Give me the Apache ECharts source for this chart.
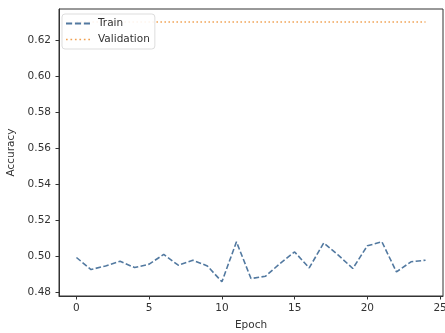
<!DOCTYPE html>
<html>
<head>
<meta charset="utf-8">
<script src="https://cdn.jsdelivr.net/npm/echarts@6/dist/echarts.min.js"></script>
<style>
  html, body { margin: 0; padding: 0; background: #fff; }
  #chart { width: 445px; height: 333px; }
</style>
</head>
<body>
<div id="chart"></div>
<script>
// Training history: accuracy per epoch
const epochs = [0,1,2,3,4,5,6,7,8,9,10,11,12,13,14,15,16,17,18,19,20,21,22,23,24];
const trainAcc = [0.4991,0.4924,0.4944,0.4970,0.4935,0.4954,0.5008,0.4948,0.4976,0.4944,
                  0.4856,0.5078,0.4874,0.4887,0.4958,0.5022,0.4933,0.5072,0.5004,0.4930,
                  0.5056,0.5078,0.4911,0.4967,0.4976];
const valAcc = [0.63,0.63,0.63,0.63,0.63,0.63,0.63,0.63,0.63,0.63,
                0.63,0.63,0.63,0.63,0.63,0.63,0.63,0.63,0.63,0.63,
                0.63,0.63,0.63,0.63,0.63];
const xTicks = [0,5,10,15,20,25];
const yTicks = [0.48,0.50,0.52,0.54,0.56,0.58,0.60,0.62];

const font = 'DejaVu Sans';
const textColor = '#333';
const trainColor = '#5279a0';
const valColor = '#f0a050';

// legend glyphs: three dashes and a row of dots
const dashIcon = 'path://M0,0h5.5v1.6h-5.5z M8,0h5.5v1.6h-5.5z M16,0h5.5v1.6h-5.5z';
let dots = '';
for (let i = 0; i < 6; i++) dots += `M${i * 4},0h1.5v1.5h-1.5z `;
const dotIcon = 'path://' + dots.trim();

const chart = echarts.init(document.getElementById('chart'));
chart.setOption({
  animation: false,
  backgroundColor: '#fff',
  grid: {
    left: 59, right: 2, top: 9, bottom: 37,
    containLabel: false, outerBoundsMode: 'none',
    show: true, borderColor: '#333', borderWidth: 1
  },
  legend: {
    orient: 'vertical', left: 62, top: 14,
    backgroundColor: 'rgba(255,255,255,0.9)', borderColor: '#ddd', borderWidth: 1, borderRadius: 3,
    padding: [4, 5, 4, 4], itemWidth: 24, itemHeight: 2, itemGap: 5,
    textStyle: { fontFamily: font, fontSize: 10.5, color: textColor, padding: [0, 0, 0, 3] },
    data: [
      { name: 'Train', icon: dashIcon, itemStyle: { color: trainColor } },
      { name: 'Validation', icon: dotIcon, itemStyle: { color: valColor } }
    ]
  },
  xAxis: {
    type: 'value', min: -1.2, max: 25.2,
    name: 'Epoch', nameLocation: 'middle', nameGap: 24,
    nameTextStyle: { fontFamily: font, fontSize: 10.5, color: textColor },
    axisLine: { show: true, onZero: false, lineStyle: { color: '#333' } },
    axisTick: { show: true, length: 3.5, lineStyle: { color: '#333' }, customValues: xTicks },
    axisLabel: { fontFamily: font, fontSize: 10.5, color: textColor, margin: 7, customValues: xTicks },
    splitLine: { show: false }
  },
  yAxis: {
    type: 'value', min: 0.4777, max: 0.6372,
    name: 'Accuracy', nameLocation: 'middle', nameGap: 36,
    nameTextStyle: { fontFamily: font, fontSize: 10.5, color: textColor },
    axisLine: { show: true, onZero: false, lineStyle: { color: '#333' } },
    axisTick: { show: true, length: 3.5, lineStyle: { color: '#333' }, customValues: yTicks },
    axisLabel: { fontFamily: font, fontSize: 10.5, color: textColor, margin: 8,
                 customValues: yTicks, formatter: v => v.toFixed(2) },
    splitLine: { show: false }
  },
  series: [
    {
      name: 'Train', type: 'line', symbol: 'none', z: 3,
      data: epochs.map((e, i) => [e, trainAcc[i]]),
      lineStyle: { color: trainColor, width: 1.6, type: [5.5, 2.4] },
      itemStyle: { color: trainColor }
    },
    {
      name: 'Validation', type: 'line', symbol: 'none', z: 2,
      data: epochs.map((e, i) => [e, valAcc[i]]),
      lineStyle: { color: valColor, width: 1.5, type: [1.5, 2.5] },
      itemStyle: { color: valColor }
    }
  ]
});
</script>
</body>
</html>
